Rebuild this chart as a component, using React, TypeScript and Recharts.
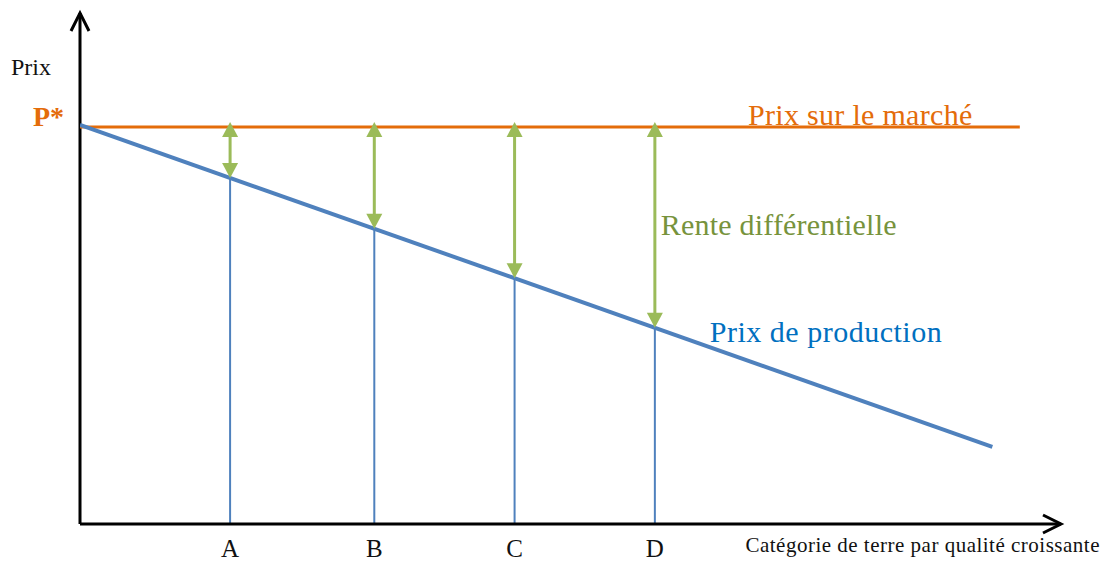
import {
  ComposedChart,
  Line,
  ReferenceDot,
  ReferenceLine,
  XAxis,
  YAxis,
} from "recharts";

// catégories de terre et positions sur l'axe (0-100)
const CATEGORIES = ["A", "B", "C", "D"];
const CATEGORY_X = [15.3, 30.0, 44.3, 58.6];
// prix de production lu à chaque catégorie
const PRODUCTION_AT_CATEGORY = [67.7, 57.8, 48.1, 38.4];
// prix de marché P*
const MARKET_PRICE = 77.7;
// droite du prix de production (début → fin)
const PRODUCTION_LINE_X = [0, 93.0];
const PRODUCTION_LINE_Y = [78.1, 15.1];
// droite du prix de marché
const MARKET_LINE_X = [0, 95.8];

const FONT = "'Liberation Serif', 'DejaVu Serif', serif";
const ORANGE = "#e46c0a";
const BLUE = "#4f81bd";
const GREEN = "#9bbb59";

const productionLine = PRODUCTION_LINE_X.map((x, i) => ({ x, y: PRODUCTION_LINE_Y[i] }));
const marketLine = MARKET_LINE_X.map((x) => ({ x, y: MARKET_PRICE }));

/** flèche verte double entre P* et le prix de production */
function DoubleArrow(props: any) {
  const { x1, y1, y2 } = props;
  const top = y1 - 5;
  const head = 15;
  const half = 8;
  return (
    <g>
      <line x1={x1} y1={top + head - 1} x2={x1} y2={y2 - head + 1} stroke={GREEN} strokeWidth={3} />
      <polygon points={`${x1},${top} ${x1 - half},${top + head} ${x1 + half},${top + head}`} fill={GREEN} />
      <polygon points={`${x1},${y2} ${x1 - half},${y2 - head} ${x1 + half},${y2 - head}`} fill={GREEN} />
    </g>
  );
}

function CategoryTick({ x, y, payload }: any) {
  const idx = CATEGORY_X.indexOf(payload.value);
  return (
    <text x={x} y={y} dy={25} textAnchor="middle" fontFamily={FONT} fontSize={25} fill="#111">
      {CATEGORIES[idx]}
    </text>
  );
}

function label(text: string, dx: number, dy: number, opts: any) {
  return (p: any) => (
    <text x={p.cx + dx} y={p.cy + dy} fontFamily={FONT} {...opts}>
      {text}
    </text>
  );
}

export default function App() {
  return (
    <div style={{ position: "absolute", left: 0, top: 0, background: "#fff" }}>
      <ComposedChart
        width={1114}
        height={562}
        margin={{ top: 13, right: 53, left: 80, bottom: 0 }}
      >
        <XAxis
          type="number"
          dataKey="x"
          domain={[0, 100]}
          ticks={CATEGORY_X}
          interval={0}
          axisLine={{ stroke: "#000", strokeWidth: 3 }}
          tickLine={false}
          tick={<CategoryTick />}
          height={38}
          allowDataOverflow
        />
        <YAxis type="number" domain={[0, 100]} hide allowDataOverflow />

        {/* axe vertical */}
        <ReferenceLine x={0} stroke="#000" strokeWidth={3} ifOverflow="visible" />

        {/* verticales des catégories */}
        {CATEGORY_X.map((x, i) => (
          <ReferenceLine
            key={"v" + i}
            segment={[{ x, y: 0 }, { x, y: PRODUCTION_AT_CATEGORY[i] }]}
            stroke={BLUE}
            strokeWidth={2}
          />
        ))}

        <Line
          data={marketLine}
          dataKey="y"
          stroke={ORANGE}
          strokeWidth={3}
          dot={false}
          isAnimationActive={false}
        />
        <Line
          data={productionLine}
          dataKey="y"
          stroke={BLUE}
          strokeWidth={4}
          dot={false}
          isAnimationActive={false}
        />

        {/* rente différentielle */}
        {CATEGORY_X.map((x, i) => (
          <ReferenceLine
            key={"r" + i}
            segment={[{ x, y: MARKET_PRICE }, { x, y: PRODUCTION_AT_CATEGORY[i] }]}
            shape={<DoubleArrow />}
            ifOverflow="visible"
          />
        ))}

        {/* flèches des axes */}
        <ReferenceDot
          x={0}
          y={100}
          ifOverflow="visible"
          shape={(p: any) => (
            <polyline
              points={`${p.cx - 9},${p.cy + 18} ${p.cx},${p.cy} ${p.cx + 9},${p.cy + 18}`}
              fill="none"
              stroke="#000"
              strokeWidth={3}
            />
          )}
        />
        <ReferenceDot
          x={100}
          y={0}
          ifOverflow="visible"
          shape={(p: any) => (
            <polyline
              points={`${p.cx - 18},${p.cy - 9} ${p.cx},${p.cy} ${p.cx - 18},${p.cy + 9}`}
              fill="none"
              stroke="#000"
              strokeWidth={3}
            />
          )}
        />

        {/* textes */}
        <ReferenceDot
          x={0}
          y={100}
          ifOverflow="visible"
          shape={label("Prix", -29, 62, { fontSize: 24, textAnchor: "end", fill: "#111" })}
        />
        <ReferenceDot
          x={0}
          y={MARKET_PRICE}
          ifOverflow="visible"
          shape={label("P*", -16, -1, { fontSize: 28, fontWeight: "bold", textAnchor: "end", fill: ORANGE })}
        />
        <ReferenceDot
          x={68.1}
          y={MARKET_PRICE}
          ifOverflow="visible"
          shape={label("Prix sur le marché", 0, -2, { fontSize: 30, letterSpacing: 0.3, fill: ORANGE })}
        />
        <ReferenceDot
          x={CATEGORY_X[3]}
          y={(MARKET_PRICE + PRODUCTION_AT_CATEGORY[3]) / 2}
          ifOverflow="visible"
          shape={label("Rente différentielle", 6, 8, { fontSize: 30, letterSpacing: 0.2, fill: "#77933c" })}
        />
        <ReferenceDot
          x={CATEGORY_X[3]}
          y={PRODUCTION_AT_CATEGORY[3]}
          ifOverflow="visible"
          shape={label("Prix de production", 55, 14, { fontSize: 30, letterSpacing: 0.5, fill: "#0070c0" })}
        />
        <ReferenceDot
          x={100}
          y={0}
          ifOverflow="visible"
          shape={label("Catégorie de terre par qualité croissante", 39, 28, {
            fontSize: 21,
            letterSpacing: 0.5,
            textAnchor: "end",
            fill: "#111",
          })}
        />
      </ComposedChart>
    </div>
  );
}
